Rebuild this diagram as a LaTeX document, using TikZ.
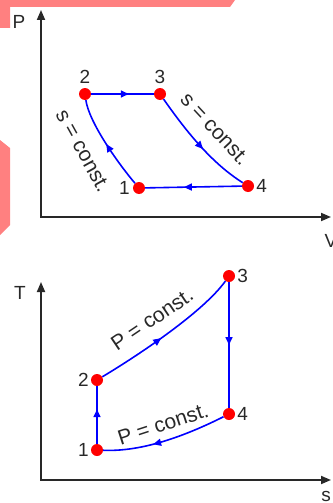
\documentclass[tikz,border=0pt]{standalone}
\usepackage{fontspec}
\setmainfont{Liberation Sans}
\usetikzlibrary{arrows.meta,decorations.markings}
\definecolor{pinkbg}{RGB}{255,128,128}
\definecolor{axgray}{RGB}{40,40,40}
\begin{document}
\begin{tikzpicture}[x=1pt, y=-1pt, >={Triangle[length=10pt,width=8pt]},
    ax/.style={<->, line width=1.8pt, axgray},
    dot/.style={circle, fill=red, inner sep=0pt, minimum size=12pt},
    cyc/.style={blue, line width=1.6pt, postaction={decorate},
      decoration={markings, mark=at position #1 with {\arrow{Triangle[length=8pt,width=7pt]}}}},
    cyc/.default=0.5,
    num/.style={font=\fontsize{19}{19}\selectfont, text=axgray, inner sep=1pt},
    lbl/.style={font=\fontsize{21}{21}\selectfont, text=axgray, inner sep=0pt}]
  \useasboundingbox (0,0) rectangle (332,503);
  % pink background pieces
  \fill[pinkbg] (0,0) -- (235,0) -- (230,7) -- (10,7) -- (10,28) -- (0,28) -- cycle;
  \fill[pinkbg] (0,140) -- (10,148) -- (10,225) -- (0,235) -- cycle;

  % P-V diagram
  \draw[ax] (41,10) -- (41,217) -- (331,217);
  \node[num] (pv-P) at (19,22) {P};
  \node[num] (pv-V) at (331,241) {V};
  \node[dot] (a1) at (139,188) {};
  \node[dot] (a2) at (85,94) {};
  \node[dot] (a3) at (160,94) {};
  \node[dot] (a4) at (248,186) {};
  \node[num, above=3pt] at (a2.north) {2};
  \node[num, above=3pt] at (a3.north) {3};
  \node[num, left=2pt] at (a1.west) {1};
  \node[num, right=1pt] at (a4.east) {4};
  \draw[cyc=0.6] (a2) -- (a3);
  \draw[cyc=0.55] (a3) .. controls (188,134) and (213,164) .. (a4);
  \draw[cyc=0.6] (a4) -- (a1);
  \draw[cyc=0.5] (a1) .. controls (117,162) and (89,122) .. (a2);
  \node[lbl, rotate=-61] (pv-s1) at (83,151) {s = const.};
  \node[lbl, rotate=-47] (pv-s2) at (215,129) {s = const.};

  % T-s diagram
  \draw[ax] (41,282) -- (41,480) -- (331,480);
  \node[num] (ts-T) at (20,293) {T};
  \node[num] (ts-s) at (326,496) {s};
  \node[dot] (b1) at (97,450) {};
  \node[dot] (b2) at (97,380) {};
  \node[dot] (b3) at (229,276) {};
  \node[dot] (b4) at (229,414) {};
  \node[num, left=1pt] at (b1.west) {1};
  \node[num, left=1pt] at (b2.west) {2};
  \node[num, right=1pt] at (b3.east) {3};
  \node[num, right=1pt] at (b4.east) {4};
  \draw[cyc=0.6] (b1) -- (b2);
  \draw[cyc=0.45] (b2) .. controls (142,353) and (204,311) .. (b3);
  \draw[cyc=0.5] (b3) -- (b4);
  \draw[cyc=0.6] (b4) .. controls (185,436) and (142,452) .. (b1);
  \node[lbl, rotate=34] (ts-p1) at (152,319) {P = const.};
  \node[lbl, rotate=18] (ts-p2) at (163,424) {P = const.};
\end{tikzpicture}
\end{document}
